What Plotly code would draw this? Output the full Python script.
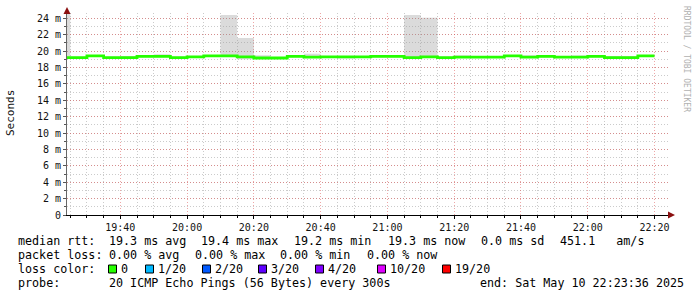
import plotly.graph_objects as go
from datetime import datetime, timedelta

# ---------------- data ----------------
step_start = "2025-05-10 19:20"
step_minutes = 5
median_ms = [19.2, 19.2, 19.4, 19.2, 19.2, 19.35, 19.35, 19.2, 19.3, 19.4,
             19.4, 19.3, 19.15, 19.15, 19.35, 19.25, 19.3, 19.3, 19.3, 19.35,
             19.35, 19.2, 19.3, 19.2, 19.25, 19.25, 19.25, 19.4, 19.25, 19.35,
             19.25, 19.25, 19.35, 19.2, 19.2, 19.4]
smoke_max = [24.64, 19.3, 19.5, 19.3, 19.4, 19.45, 19.6, 19.3, 19.4, 19.5,
             24.4, 21.6, 19.5, 19.25, 19.45, 19.67, 19.4, 19.4, 19.4, 19.45,
             19.45, 24.4, 24.05, 19.3, 19.5, 19.35, 19.35, 19.5, 19.5, 19.45,
             19.35, 19.45, 19.45, 19.4, 19.4, 19.5]
smoke_min = [19.1, 19.1, 19.3, 19.1, 19.1, 19.25, 19.25, 19.1, 19.2, 19.3,
             19.3, 19.0, 19.05, 19.05, 19.25, 19.15, 19.2, 19.1, 19.2, 19.25,
             19.25, 19.1, 19.2, 19.1, 19.15, 19.15, 19.15, 19.3, 19.15, 19.25,
             19.15, 19.15, 19.25, 19.1, 19.1, 19.3]
y_tick_vals = [0, 2, 4, 6, 8, 10, 12, 14, 16, 18, 20, 22, 24]
y_tick_text = ["0", "2 m", "4 m", "6 m", "8 m", "10 m", "12 m", "14 m",
               "16 m", "18 m", "20 m", "22 m", "24 m"]
x_range = ["2025-05-10 19:24:02", "2025-05-10 22:24:38"]
y_range = [0, 24.64]

line1 = [("median rtt:", 16), ("19.3 ms avg", 107), ("19.4 ms max", 199),
         ("19.2 ms min", 292), ("19.3 ms now", 386), ("0.0 ms sd", 479),
         ("451.1   am/s", 558)]
line2 = [("packet loss:", 16), ("0.00 % avg", 107), ("0.00 % max", 193),
         ("0.00 % min", 278), ("0.00 % now", 365)]
loss_labels = ["0", "1/20", "2/20", "3/20", "4/20", "10/20", "19/20"]
loss_colors = ["#26ff00", "#00b8ff", "#0059ff", "#5e00ff", "#7e00ff", "#dd00ff", "#ff0000"]
loss_box_x = [108.5, 145.5, 202.5, 258.5, 315.5, 377.5, 442.5]
line4 = [("probe:", 16), ("20 ICMP Echo Pings (56 Bytes) every 300s", 107),
         ("end: Sat May 10 22:23:36 2025", 478)]

# ---------------- layout geometry ----------------
W, H = 697, 297
L, R, T, B = 67, 27, 13, 82
PW, PH = W - L - R, H - T - B


def px(x):
    return (x - L) / PW


def py(y):
    return (H - B - y) / PH


t0 = datetime.strptime(step_start, "%Y-%m-%d %H:%M")
times = [t0 + timedelta(minutes=step_minutes * i) for i in range(len(median_ms))]
times_ext = times + [times[-1] + timedelta(minutes=step_minutes)]


def ext(v):
    return list(v) + [v[-1]]


fig = go.Figure()
fig.add_trace(go.Scatter(x=times_ext, y=ext(smoke_min), mode="lines",
                         line=dict(width=0, shape="hv"), hoverinfo="skip",
                         showlegend=False))
fig.add_trace(go.Scatter(x=times_ext, y=ext(smoke_max), mode="lines",
                         line=dict(width=0, shape="hv"), fill="tonexty",
                         fillcolor="rgba(150,150,150,0.34)", hoverinfo="skip",
                         showlegend=False))
fig.add_trace(go.Scatter(x=times_ext, y=ext(median_ms), mode="lines",
                         line=dict(width=2.8, shape="hv", color="#26ff00"),
                         showlegend=False))

mono = "DejaVu Sans Mono"
fig.update_layout(
    width=W, height=H, autosize=False,
    margin=dict(l=L, r=R, t=T, b=B, pad=0),
    paper_bgcolor="white", plot_bgcolor="white",
    showlegend=False,
    font=dict(family=mono, size=10, color="#111"),
)
fig.update_xaxes(
    type="date", range=x_range, tickformat="%H:%M",
    tick0="2025-05-10 19:40", dtick=20 * 60 * 1000,
    showgrid=True, gridcolor="rgba(222,80,80,0.5)", griddash="1px,2px", gridwidth=1,
    minor=dict(dtick=5 * 60 * 1000, tick0="2025-05-10 19:40", showgrid=True,
               gridcolor="rgba(140,140,140,0.45)", griddash="1px,2px",
               ticks="outside", ticklen=2, tickcolor="#000"),
    ticks="outside", ticklen=3, tickcolor="#000",
    showline=True, linecolor="#000", linewidth=1.3, zeroline=False,
    tickfont=dict(family=mono, size=10, color="#111"),
)
fig.update_yaxes(
    range=y_range, tickvals=y_tick_vals, ticktext=y_tick_text,
    showgrid=True, gridcolor="rgba(222,80,80,0.5)", griddash="1px,2px", gridwidth=1,
    minor=dict(dtick=1, showgrid=True, gridcolor="rgba(140,140,140,0.45)",
               griddash="1px,2px", ticks="outside", ticklen=2, tickcolor="#555"),
    ticks="outside", ticklen=3, tickcolor="#555",
    showline=True, linecolor="#666", linewidth=1, zeroline=False,
    tickfont=dict(family=mono, size=10, color="#111"),
)

ann = []
# y axis title
ann.append(dict(text="Seconds", x=px(10), y=py(113), xref="paper", yref="paper",
                textangle=-90, showarrow=False, xanchor="center", yanchor="middle",
                font=dict(family=mono, size=11, color="#111")))
# watermark
ann.append(dict(text="RRDTOOL / TOBI OETIKER", x=px(686), y=py(59), xref="paper",
                yref="paper", textangle=90, showarrow=False, xanchor="center",
                yanchor="middle", font=dict(family=mono, size=8, color="#b0b0b0")))

lf = dict(family=mono, size=11.7, color="#000")


def add_line(items, ypix):
    for txt, xpix in items:
        ann.append(dict(text=txt.replace(" ", "&nbsp;"), x=px(xpix), y=py(ypix),
                        xref="paper", yref="paper", showarrow=False,
                        xanchor="left", yanchor="middle", font=lf))


add_line(line1, 241)
add_line(line2, 255)
add_line([("loss color:", 16)], 269)
shapes = []
for lab, col, bx in zip(loss_labels, loss_colors, loss_box_x):
    shapes.append(dict(type="rect", xref="paper", yref="paper",
                       x0=px(bx), x1=px(bx + 8), y0=py(273), y1=py(265),
                       fillcolor=col, line=dict(color="#000", width=1)))
    ann.append(dict(text=lab, x=px(bx + 10), y=py(269), xref="paper", yref="paper",
                    showarrow=False, xanchor="left", yanchor="middle", font=lf))
add_line(line4, 283)

# axis arrows
ac = "#8b1010"
shapes.append(dict(type="path", xref="paper", yref="paper",
                   path=f"M {px(67)} {py(7)} L {px(63.5)} {py(14)} L {px(70.5)} {py(14)} Z",
                   fillcolor=ac, line=dict(color=ac, width=0)))
shapes.append(dict(type="path", xref="paper", yref="paper",
                   path=f"M {px(675)} {py(215)} L {px(668)} {py(211.5)} L {px(668)} {py(218.5)} Z",
                   fillcolor=ac, line=dict(color=ac, width=0)))

fig.update_layout(annotations=ann, shapes=shapes)
fig.write_html("out.html")
